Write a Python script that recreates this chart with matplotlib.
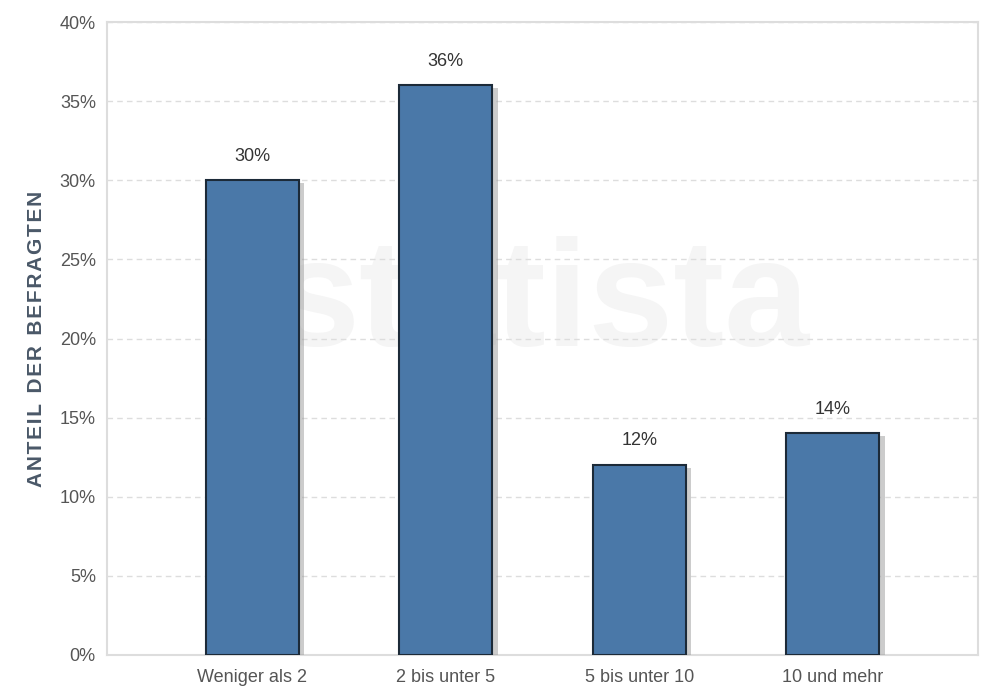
import matplotlib
matplotlib.use("Agg")
import matplotlib.pyplot as plt
import matplotlib.patheffects as pe

# data
categories = ["Weniger als 2", "2 bis unter 5", "5 bis unter 10", "10 und mehr"]
shares = [30, 36, 12, 14]
yticks = [0, 5, 10, 15, 20, 25, 30, 35, 40]

plt.rcParams['font.family'] = ['Liberation Sans', 'DejaVu Sans']

fig = plt.figure(figsize=(9.86, 6.92), dpi=100)
ax = fig.add_axes([0.1085, 0.0535, 0.8835, 0.9145])

bars = ax.bar(range(len(categories)), shares, width=0.48, color='#4a78a8',
              edgecolor='#1c2a38', linewidth=1.5, zorder=3)
for b in bars:
    b.set_path_effects([pe.SimplePatchShadow(offset=(4, -2), shadow_rgbFace='#9a9a9a', alpha=0.5),
                        pe.Normal()])

for i, v in enumerate(shares):
    ax.text(i, v + 1.0, f"{v}%", ha='center', va='bottom', fontsize=13, color='#333333')

# faint watermark
ax.text(1.5, 22, "statista", ha='center', va='center', fontsize=110, color='#f5f5f5',
        fontweight='bold', zorder=1)

ax.set_xlim(-0.75, 3.75)
ax.set_ylim(0, 40)
ax.set_yticks(yticks)
ax.set_yticklabels([f"{t}%" for t in yticks])
ax.set_xticks(range(len(categories)))
ax.set_xticklabels(categories)
ax.tick_params(axis='both', length=0, labelsize=13, labelcolor='#555555', pad=8)
ax.tick_params(axis='x', pad=10)

ax.grid(axis='y', color='#dddddd', linestyle=(0, (4, 3)), linewidth=1, zorder=0)
for s in ax.spines.values():
    s.set_color('#dddddd')
    s.set_linewidth(1.5)

ax.set_ylabel("A N T E I L   D E R   B E F R A G T E N".replace("   ", "\u2002").replace(" ", "\u200a"),
              fontsize=15, fontweight='bold', color='#4a5868', labelpad=10)

fig.savefig("out.png", dpi=100)
